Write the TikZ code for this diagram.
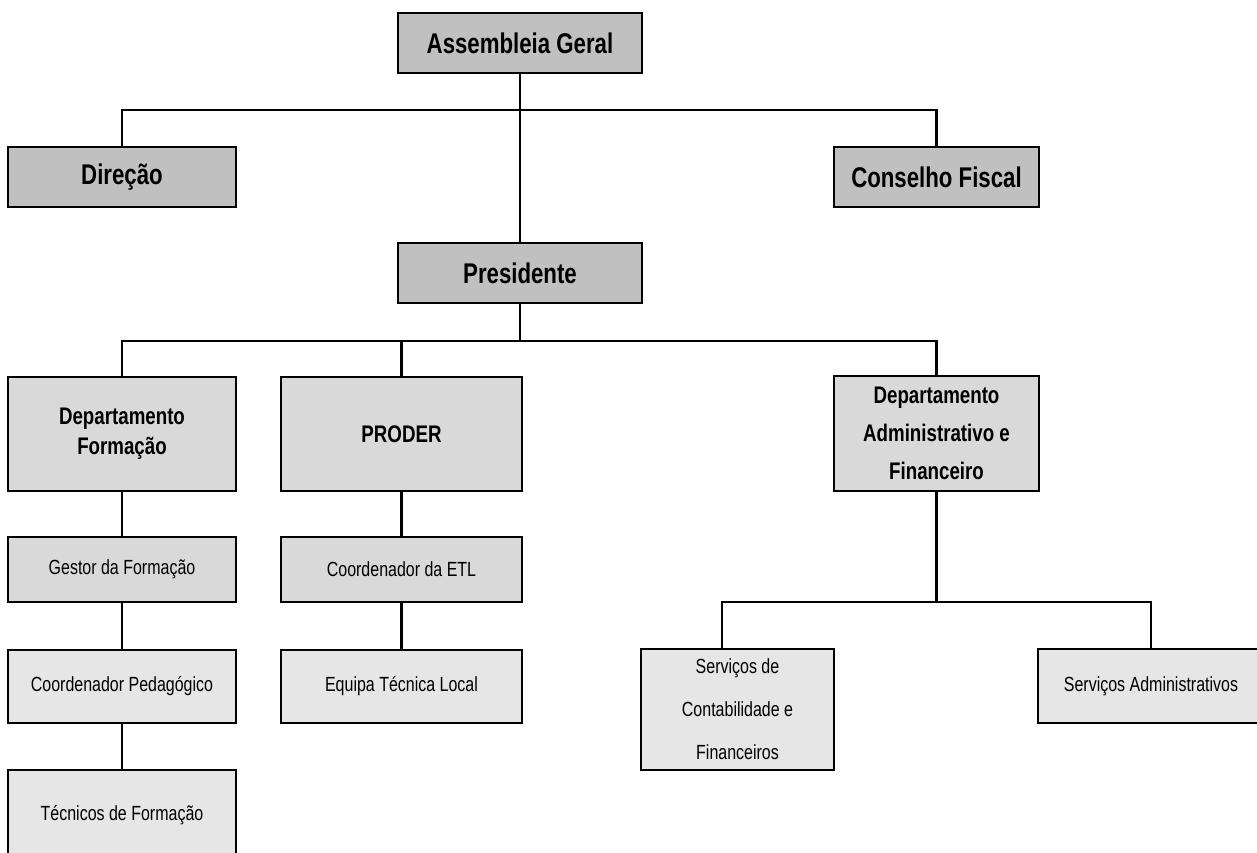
\documentclass[tikz,border=0pt]{standalone}
\usepackage{fontspec}
\setmainfont{Liberation Sans}[FakeStretch=0.78]
\definecolor{boxdark}{HTML}{C0C0C0}
\definecolor{boxmid}{HTML}{D9D9D9}
\definecolor{boxlight}{HTML}{E6E6E6}
\tikzset{
  orgbox/.style={rectangle, draw=black, line width=2.5pt, inner sep=0pt, align=center},
  topbox/.style={orgbox, fill=boxdark, font=\fontsize{28.5}{34}\selectfont\bfseries},
  deptbox/.style={orgbox, fill=boxmid, font=\fontsize{24}{30}\selectfont\bfseries},
  midbox/.style={orgbox, fill=boxmid, font=\fontsize{20.5}{26}\selectfont},
  lowbox/.style={orgbox, fill=boxlight, font=\fontsize{20.5}{26}\selectfont},
  link/.style={line width=2.5pt, line cap=rect}
}
\begin{document}
\begin{tikzpicture}[x=1pt,y=-1pt]
\clip (0,0) rectangle (1257,853);
\fill[white] (0,0) rectangle (1257,853);
% nodes
\node[topbox, minimum width=244pt, minimum height=60pt] (ag) at (520,43) {Assembleia Geral};
\node[topbox, minimum width=228pt, minimum height=60pt] (dir) at (122,177) {Direção};
\node[topbox, minimum width=205pt, minimum height=60pt] (cf) at (936.5,177) {Conselho Fiscal};
\node[topbox, minimum width=244pt, minimum height=60pt] (pres) at (520,273) {Presidente};
\node[deptbox, minimum width=228pt, minimum height=114pt] (df) at (122,434) {Departamento\\Formação};
\node[deptbox, minimum width=241pt, minimum height=114pt] (prod) at (401.5,434) {PRODER};
\node[deptbox, minimum width=205pt, minimum height=115pt, font=\fontsize{24}{38}\selectfont\bfseries] (da) at (936.5,433.5) {Departamento\\Administrativo e\\Financeiro};
\node[midbox, minimum width=228pt, minimum height=65pt] (gf) at (122,569.5) {Gestor da Formação};
\node[lowbox, minimum width=228pt, minimum height=73pt] (cp) at (122,686.5) {Coordenador Pedagógico};
\node[lowbox, minimum width=228pt, minimum height=90pt] (tf) at (122,815) {Técnicos de Formação};
\node[midbox, minimum width=241pt, minimum height=65pt] (etl) at (401.5,569.5) {Coordenador da ETL};
\node[lowbox, minimum width=241pt, minimum height=73pt] (eq) at (401.5,686.5) {Equipa Técnica Local};
\node[lowbox, minimum width=193pt, minimum height=121pt, font=\fontsize{20.5}{43}\selectfont] (sc) at (737.5,709.5) {Serviços de\\Contabilidade e\\Financeiros};
\node[lowbox, minimum width=226pt, minimum height=74pt] (sa) at (1151,686) {Serviços Administrativos};
% branch points
\coordinate (b1) at (520,110);
\coordinate (b2) at (520,341);
\coordinate (b3) at (936.5,602);
% connectors
\draw[link] (ag.south) -- (pres.north);
\draw[link] (dir.north) |- (b1) -| (cf.north);
\draw[link] (pres.south) -- (b2);
\draw[link] (df.north) |- (b2) -| (da.north);
\draw[link] (prod.north) -- (prod.north |- b2);
\draw[link] (df.south) -- (gf.north);
\draw[link] (gf.south) -- (cp.north);
\draw[link] (cp.south) -- (tf.north);
\draw[link] (prod.south) -- (etl.north);
\draw[link] (etl.south) -- (eq.north);
\draw[link] (da.south) -- (b3);
\draw[link] ([xshift=-15.5pt]sc.north) |- (b3) -| (sa.north);
\end{tikzpicture}
\end{document}
